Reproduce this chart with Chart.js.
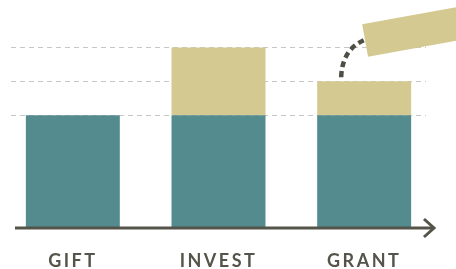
<!DOCTYPE html>
<html lang="en">

<head>
    <meta charset="UTF-8">
    <title>Gift / Invest / Grant</title>
    <style>
        html, body { margin: 0; padding: 0; background: #fff; }
        #wrap { width: 456px; height: 269px; position: relative; }
    </style>
</head>

<body>
    <div id="wrap">
        <canvas id="chart"></canvas>
    </div>

    <script src="https://cdn.jsdelivr.net/npm/chart.js"></script>

    <script>
        // data
        const categories = ['GIFT', 'INVEST', 'GRANT'];
        const baseValues = [10, 10, 10];
        const extraValues = [0, 6, 3];
        const guideValues = [10, 13, 16];

        const teal = '#538b8f';
        const tan = '#d4c991';
        const ink = '#54544a';

        // dashed guide lines, axis arrow and the "flying" piece
        const decorations = {
            id: 'decorations',
            beforeDraw(chart) {
                chart.ctx.letterSpacing = '2.5px';
            },
            beforeDatasetsDraw(chart) {
                const ctx = chart.ctx;
                const y = chart.scales.y;
                ctx.save();
                ctx.strokeStyle = '#c6c6c6';
                ctx.lineWidth = 1;
                ctx.setLineDash([5, 4]);
                guideValues.forEach(v => {
                    const py = Math.round(y.getPixelForValue(v)) + 0.5;
                    ctx.beginPath();
                    ctx.moveTo(11, py);
                    ctx.lineTo(426, py);
                    ctx.stroke();
                });
                ctx.restore();
            },
            afterDatasetsDraw(chart) {
                const ctx = chart.ctx;
                const area = chart.chartArea;
                ctx.save();

                // axis with arrow
                ctx.strokeStyle = ink;
                ctx.lineWidth = 3;
                ctx.beginPath();
                ctx.moveTo(15, area.bottom);
                ctx.lineTo(434, area.bottom);
                ctx.stroke();
                ctx.beginPath();
                ctx.moveTo(424, area.bottom - 9);
                ctx.lineTo(434, area.bottom);
                ctx.lineTo(424, area.bottom + 9);
                ctx.stroke();

                // piece lifted off the GRANT bar
                const bar = chart.getDatasetMeta(1).data[2];
                const bx = bar.x, by = bar.y;
                ctx.save();
                ctx.translate(bx - 2, by - 57);
                ctx.rotate(-10.3 * Math.PI / 180);
                ctx.fillStyle = tan;
                ctx.fillRect(0, 0, 130, 33);
                ctx.restore();

                ctx.strokeStyle = '#4e4e45';
                ctx.lineWidth = 4.5;
                ctx.setLineDash([6, 4]);
                ctx.beginPath();
                ctx.moveTo(bx - 23, by - 4);
                ctx.quadraticCurveTo(bx - 22, by - 33, bx + 2, by - 42);
                ctx.stroke();

                ctx.restore();
            }
        };

        const ctx = document.getElementById('chart').getContext('2d');
        new Chart(ctx, {
            type: 'bar',
            data: {
                labels: categories,
                datasets: [
                    { data: baseValues, backgroundColor: teal, borderWidth: 0 },
                    { data: extraValues, backgroundColor: tan, borderWidth: 0 }
                ]
            },
            options: {
                responsive: true,
                maintainAspectRatio: false,
                animation: false,
                events: [],
                layout: { padding: { left: 0, right: 19, top: 0, bottom: 0 } },
                datasets: {
                    bar: { categoryPercentage: 1, barPercentage: 0.645 }
                },
                plugins: {
                    legend: { display: false },
                    tooltip: { enabled: false }
                },
                scales: {
                    x: {
                        stacked: true,
                        border: { display: false },
                        grid: { display: false, drawTicks: false },
                        afterFit(scale) { scale.height = 41; },
                        ticks: {
                            color: ink,
                            padding: 22,
                            font: { family: 'Lato', size: 18, weight: 'bold' }
                        }
                    },
                    y: {
                        stacked: true,
                        display: false,
                        min: 0,
                        max: 20.2
                    }
                }
            },
            plugins: [decorations]
        });
    </script>
</body>

</html>
